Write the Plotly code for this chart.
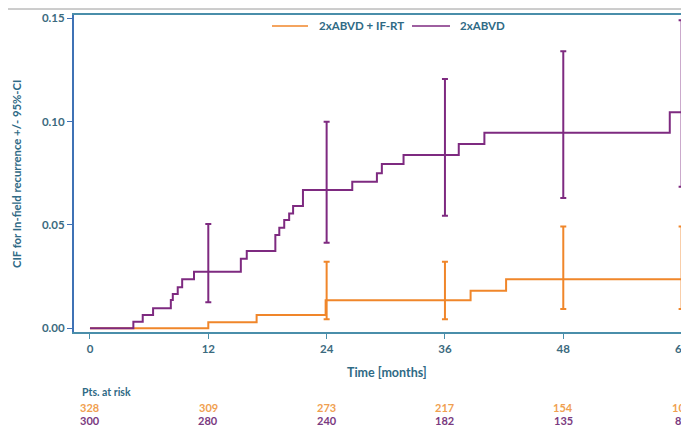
import plotly.graph_objects as go

# ---- data ----
months_ticks = [0, 12, 24, 36, 48, 60]
y_ticks = [0.00, 0.05, 0.10, 0.15]
y_tick_labels = ["0.00", "0.05", "0.10", "0.15"]

ifrt_t = [0, 12.0, 16.9, 23.9, 38.6, 42.2, 61.5]
ifrt_cif = [0, 0.0029, 0.0064, 0.0136, 0.0182, 0.0237, 0.0237]

abvd_t = [0, 4.4, 5.35, 6.4, 8.2, 8.4, 8.9, 9.35, 10.55, 15.3, 15.9, 18.8, 19.2,
          19.7, 20.2, 20.6, 21.6, 26.6, 29.1, 29.6, 31.8, 37.4, 40.0, 58.8, 61.5]
abvd_cif = [0, 0.0032, 0.0064, 0.0097, 0.0137, 0.0166, 0.0198, 0.0237, 0.0274, 0.0337,
            0.0374, 0.0451, 0.0487, 0.0524, 0.0556, 0.0592, 0.0669, 0.0709, 0.0750,
            0.0795, 0.0838, 0.0892, 0.0946, 0.1045, 0.1045]

ifrt_ci_t = [24, 36, 48, 60]
ifrt_ci_mid = [0.0136, 0.0136, 0.0237, 0.0237]
ifrt_ci_hi = [0.0322, 0.0322, 0.0492, 0.0492]
ifrt_ci_lo = [0.0044, 0.0044, 0.0093, 0.0093]

abvd_ci_t = [12, 24, 36, 48, 60]
abvd_ci_mid = [0.0274, 0.0669, 0.0838, 0.0946, 0.1045]
abvd_ci_hi = [0.0505, 0.1000, 0.1206, 0.1340, 0.1490]
abvd_ci_lo = [0.0126, 0.0414, 0.0545, 0.0630, 0.0685]

risk_t = [0, 12, 24, 36, 48, 60]
risk_ifrt = [328, 309, 273, 217, 154, 100]
risk_abvd = [300, 280, 240, 182, 135, 86]

series_names = ["2xABVD + IF-RT", "2xABVD"]

ORANGE = "#f0862a"
PURPLE = "#7e2a80"
TXT = "#2f6a85"
TICK = "#3b6a7e"
FONT = "Lato"
bold = "bold"

fig = go.Figure()

fig.add_trace(go.Scatter(x=ifrt_t, y=ifrt_cif, mode="lines", line_shape="hv",
                         line=dict(color=ORANGE, width=2), name=series_names[0]))
fig.add_trace(go.Scatter(x=abvd_t, y=abvd_cif, mode="lines", line_shape="hv",
                         line=dict(color=PURPLE, width=2), name=series_names[1]))

fig.add_trace(go.Scatter(
    x=ifrt_ci_t, y=ifrt_ci_mid, mode="markers", marker=dict(size=1, opacity=0),
    showlegend=False, hoverinfo="skip", cliponaxis=False,
    error_y=dict(type="data", symmetric=False,
                 array=[h - m for h, m in zip(ifrt_ci_hi, ifrt_ci_mid)],
                 arrayminus=[m - l for m, l in zip(ifrt_ci_mid, ifrt_ci_lo)],
                 color=ORANGE, thickness=2, width=3)))
fig.add_trace(go.Scatter(
    x=abvd_ci_t, y=abvd_ci_mid, mode="markers", marker=dict(size=1, opacity=0),
    showlegend=False, hoverinfo="skip", cliponaxis=False,
    error_y=dict(type="data", symmetric=False,
                 array=[h - m for h, m in zip(abvd_ci_hi, abvd_ci_mid)],
                 arrayminus=[m - l for m, l in zip(abvd_ci_mid, abvd_ci_lo)],
                 color=PURPLE, thickness=2, width=3)))

# The page body adds an 8px margin, so the figure is 8px smaller and every
# reference pixel position is shifted by 8px.
OFF = 8
W, H = 689 - OFF, 427 - OFF
L, T = 74 - OFF, 15 - OFF
PLOT_BOTTOM = 332 - OFF
B = H - PLOT_BOTTOM
R = 0
ph = H - T - B
pw = W - L - R

def ypaper(py):
    return (H - B - (py - OFF)) / ph

def xpaper(px):
    return ((px - OFF) - L) / pw

annotations = [dict(x=xpaper(80), y=ypaper(392), xref="paper", yref="paper", text="Pts. at risk",
                    showarrow=False, xanchor="left", yanchor="middle",
                    font=dict(family=FONT, size=10.5, color=TXT, weight=bold))]
for t, a, b in zip(risk_t, risk_ifrt, risk_abvd):
    annotations.append(dict(x=t, y=ypaper(407), xref="x", yref="paper", text=str(a),
                            showarrow=False, xanchor="center", yanchor="middle",
                            font=dict(family=FONT, size=11, color="#f0a050", weight=bold)))
    annotations.append(dict(x=t, y=ypaper(420.5), xref="x", yref="paper", text=str(b),
                            showarrow=False, xanchor="center", yanchor="middle",
                            font=dict(family=FONT, size=11, color="#7a3a80", weight=bold)))
annotations.append(dict(x=xpaper(387), y=ypaper(372), xref="paper", yref="paper",
                        text="Time [months]", showarrow=False, xanchor="center", yanchor="middle",
                        font=dict(family=FONT, size=12.5, color=TXT, weight=bold)))
annotations.append(dict(x=xpaper(16), y=ypaper(174), xref="paper", yref="paper",
                        text="CIF for In-field recurrence +/- 95%-CI", textangle=-90,
                        showarrow=False, xanchor="center", yanchor="middle",
                        font=dict(family=FONT, size=11.3, color=TXT, weight=bold)))

# manual legend
legend_items = [(272, 308, 317, series_names[0], ORANGE), (412, 450, 458, series_names[1], PURPLE)]
shapes = [dict(type="line", xref="paper", yref="paper",
               x0=xpaper(8), x1=1.0, y0=ypaper(9), y1=ypaper(9),
               line=dict(color="#9a9a9a", width=1))]
for x0, x1, xt, name, col in legend_items:
    shapes.append(dict(type="line", xref="paper", yref="paper", x0=xpaper(x0), x1=xpaper(x1),
                       y0=ypaper(26), y1=ypaper(26), line=dict(color=col, width=1.5)))
    annotations.append(dict(x=xpaper(xt), y=ypaper(25.5), xref="paper", yref="paper", text=name,
                            showarrow=False, xanchor="left", yanchor="middle",
                            font=dict(family=FONT, size=11.5, color=TXT, weight=bold)))

fig.update_layout(
    width=W, height=H,
    margin=dict(l=L, r=R, t=T, b=B, autoexpand=False),
    plot_bgcolor="white", paper_bgcolor="white",
    font=dict(family=FONT, size=11, color=TXT),
    showlegend=False,
    annotations=annotations,
    shapes=shapes,
)

fig.update_xaxes(
    range=[-1.62, 60.75], tickvals=months_ticks, ticktext=[str(v) for v in months_ticks],
    showline=True, linecolor="#4a8eaa", linewidth=2, mirror=True,
    ticks="outside", ticklen=5, tickcolor="#4a8eaa", tickwidth=1,
    showgrid=False, zeroline=False, automargin=False, ticklabeloverflow="allow",
    tickfont=dict(family=FONT, size=11.5, color=TICK, weight=bold),
)
fig.update_yaxes(
    range=[-0.0018, 0.1516], tickvals=y_ticks, ticktext=y_tick_labels,
    showline=True, linecolor="#3f72b5", linewidth=2, mirror=False,
    ticks="outside", ticklen=5, tickcolor="#3f72b5", tickwidth=1,
    showgrid=False, zeroline=False, automargin=False, ticklabeloverflow="allow",
    tickfont=dict(family=FONT, size=11.5, color=TICK, weight=bold),
)

fig.write_html("out.html")
